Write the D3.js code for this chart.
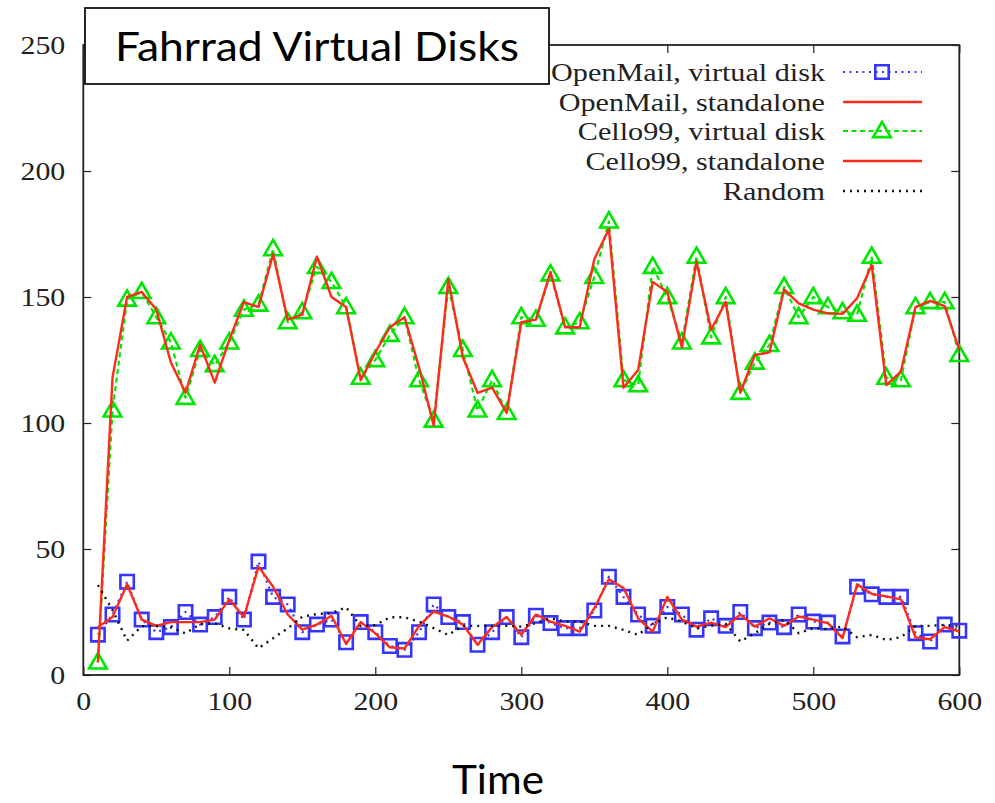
<!DOCTYPE html>
<html>
<head>
<meta charset="utf-8">
<script src="https://cdn.jsdelivr.net/npm/d3@7"></script>
<style>
  html, body { margin: 0; padding: 0; background: #fff; }
  svg { display: block; }
</style>
</head>
<body>
<svg id="chart" width="995" height="803"></svg>
<script>
// Sample times (one sample every 10 time units)
const times = d3.range(10, 601, 10);

// Throughput series, one value per sample time
const openMailVirtual = [16, 24, 37, 22, 17, 19, 25, 20, 23, 31, 22, 45, 31, 28, 17, 20, 22, 13, 21, 17,
  11.5, 10, 17, 28, 23, 21, 12, 17, 23, 15, 23.5, 20.6, 18.6, 18.6, 25.6, 39, 31, 24, 19.5, 27,
  24, 18, 22.5, 19.5, 25, 18.6, 20.8, 19, 24, 21.2, 20.8, 15.3, 35, 32, 31, 31, 16.6, 13.3, 20, 17.6];
const openMailStandalone = [19, 23, 36, 22, 19.5, 21, 21, 21, 22, 30, 23, 43, 35, 24, 18, 20, 23.5, 12.3, 21, 16.5,
  11, 10.5, 19.5, 25.2, 23.2, 20, 12, 19, 23, 16, 24, 21.2, 19.5, 17.2, 26.5, 38, 34.5, 22.5, 17.2, 31,
  22, 19.2, 20.8, 19, 24, 19.2, 22.5, 19.5, 23.2, 22, 20.6, 14.6, 36, 32.2, 31.2, 30, 15, 14.2, 19, 17.2];
const celloVirtual = [5, 105, 149, 152, 142, 132, 110, 129, 123, 132, 145, 147, 169, 140, 144, 162, 156, 146, 118, 125,
  135, 142, 117, 101, 154, 129, 105, 117, 104, 142, 141, 159, 138, 140, 158, 180, 117, 115, 162, 150,
  132, 166, 134, 150, 112, 124, 131, 154, 142, 150, 146, 144, 143, 166, 118, 117, 146, 148, 148, 127];
const celloStandalone = [5, 118, 150, 152, 145, 124, 112, 131, 116, 133, 148, 146, 167, 141, 143, 166, 150, 146, 117, 128,
  138, 142, 122, 99, 157, 126, 112, 114, 104, 140, 141, 160, 138, 138, 165, 177, 114, 121, 156, 152,
  130, 164, 137, 148, 112, 127, 128, 153, 147.5, 145, 143.5, 143.3, 149.5, 162.7, 115, 120.4, 146, 148.5, 146.4, 129];
const randomLoad = [35.7, 25.8, 13.6, 19.4, 19.4, 18.9, 16.5, 20.2, 20.5, 18.5, 17.9, 10.6, 14.6, 18.5, 23.1, 24.2, 24.5, 26.9, 19.4, 19.8,
  22.9, 22.9, 21.2, 18.6, 15.9, 19.5, 19.5, 19.5, 19.5, 19.2, 20.6, 22.5, 21.2, 21.2, 19.5, 19.5, 17.9, 15.9, 20.3, 22.9,
  21.2, 18.6, 19.5, 20.3, 13.3, 16.6, 20.3, 21.9, 16.6, 18.6, 18.2, 19.2, 15, 15.9, 13.9, 15, 19.5, 19.5, 19.9, 19.2];

// Axis tick values
const xTicks = [0, 100, 200, 300, 400, 500, 600];
const yTicks = [0, 50, 100, 150, 200, 250];

const titleText = "Fahrrad Virtual Disks";
const xLabel = "Time";

const seriesNames = ["OpenMail, virtual disk", "OpenMail, standalone", "Cello99, virtual disk", "Cello99, standalone", "Random"];

const svg = d3.select("#chart");
const plotLeft = 83.3, plotRight = 959.3, plotTop = 45, plotBottom = 675;

const x = d3.scaleLinear().domain([0, 600]).range([plotLeft, plotRight]);
const y = d3.scaleLinear().domain([0, 250]).range([plotBottom, plotTop]);

const serif = "'Liberation Serif', 'Times New Roman', serif";
const sans = "Lato, 'Open Sans', sans-serif";

// The serif labels are set slightly wide
function widen(sel, factor) {
  sel.each(function () {
    const w = this.getComputedTextLength();
    d3.select(this).attr("textLength", w * factor).attr("lengthAdjust", "spacingAndGlyphs");
  });
}

// Series styles
const styles = [
  { values: openMailVirtual, color: "#3535ff", dash: "2,4.5", width: 2.2, marker: "square" },
  { values: openMailStandalone, color: "#ff2a1a", dash: null, width: 2.4, marker: null },
  { values: celloVirtual, color: "#00e600", dash: "5,3.5", width: 2.2, marker: "triangle" },
  { values: celloStandalone, color: "#ff2a1a", dash: null, width: 2.4, marker: null },
  { values: randomLoad, color: "#111", dash: "2,5", width: 2.4, marker: null }
];

// Axes with inward ticks, mirrored on top and right
const tickLen = 8;
function styleAxis(g) {
  g.select(".domain").remove();
  g.selectAll(".tick line").attr("stroke", "#222").attr("stroke-width", 1.2);
  g.selectAll(".tick text").attr("font-family", serif).attr("font-size", 26).attr("fill", "#222")
    .call(widen, 1.15);
}
svg.append("g").attr("transform", `translate(0,${plotBottom})`)
  .call(d3.axisBottom(x).tickValues(xTicks).tickSizeInner(-tickLen).tickSizeOuter(0).tickPadding(17))
  .call(styleAxis);
svg.append("g").attr("transform", `translate(0,${plotTop})`)
  .call(d3.axisTop(x).tickValues(xTicks).tickSizeInner(-tickLen).tickSizeOuter(0).tickFormat(""))
  .call(styleAxis);
svg.append("g").attr("transform", `translate(${plotLeft},0)`)
  .call(d3.axisLeft(y).tickValues(yTicks).tickSizeInner(-tickLen).tickSizeOuter(0).tickPadding(18))
  .call(styleAxis);
svg.append("g").attr("transform", `translate(${plotRight},0)`)
  .call(d3.axisRight(y).tickValues(yTicks).tickSizeInner(-tickLen).tickSizeOuter(0).tickFormat(""))
  .call(styleAxis);

// Plot frame
svg.append("rect").attr("x", plotLeft).attr("y", plotTop)
  .attr("width", plotRight - plotLeft).attr("height", plotBottom - plotTop)
  .attr("fill", "none").attr("stroke", "#222").attr("stroke-width", 1.8);

// Marker shapes
const squareSym = d3.symbol().type(d3.symbolSquare).size(180);
const triSym = d3.symbol().type(d3.symbolTriangle).size(135);
function drawMarker(g, kind, cx, cy, color) {
  if (kind === "square") {
    g.append("path").attr("d", squareSym()).attr("transform", `translate(${cx},${cy})`)
      .attr("fill", "none").attr("stroke", color).attr("stroke-width", 2.6);
  } else if (kind === "triangle") {
    g.append("path").attr("d", triSym()).attr("transform", `translate(${cx},${cy + 1})`)
      .attr("fill", "none").attr("stroke", color).attr("stroke-width", 2.6);
  }
}

// Data lines and markers
const line = d3.line().x((d, i) => x(times[i])).y(d => y(d));
const plot = svg.append("g");
styles.forEach(s => {
  const g = plot.append("g");
  g.append("path").datum(s.values).attr("d", line)
    .attr("fill", "none").attr("stroke", s.color).attr("stroke-width", s.width)
    .attr("stroke-dasharray", s.dash)
    .attr("stroke-linejoin", "round");
  if (s.marker) s.values.forEach((v, i) => drawMarker(g, s.marker, x(times[i]), y(v), s.color));
});

// Legend
const legendY = [72, 102, 131, 161, 191];
const legend = svg.append("g");
seriesNames.forEach((name, i) => {
  const s = styles[i];
  legend.append("text").attr("x", 825).attr("y", legendY[i]).attr("dy", "0.35em")
    .attr("text-anchor", "end").attr("font-family", serif).attr("font-size", 26).attr("fill", "#222")
    .text(name).call(widen, 1.16);
  legend.append("line").attr("x1", 843).attr("x2", 922).attr("y1", legendY[i]).attr("y2", legendY[i])
    .attr("stroke", s.color).attr("stroke-width", s.width).attr("stroke-dasharray", s.dash);
  if (s.marker) drawMarker(legend, s.marker, 882, legendY[i], s.color);
});

// Title box
svg.append("rect").attr("x", 85).attr("y", 8).attr("width", 464).attr("height", 76)
  .attr("fill", "#fff").attr("stroke", "#111").attr("stroke-width", 1.8);
svg.append("text").attr("x", 317).attr("y", 47).attr("dy", "0.35em").attr("text-anchor", "middle")
  .attr("font-family", sans).attr("font-size", 40).attr("fill", "#000")
  .attr("textLength", 404).attr("lengthAdjust", "spacingAndGlyphs")
  .text(titleText);

// X axis title
svg.append("text").attr("x", 498).attr("y", 794).attr("text-anchor", "middle")
  .attr("font-family", sans).attr("font-size", 40).attr("fill", "#000")
  .attr("textLength", 92).attr("lengthAdjust", "spacingAndGlyphs")
  .text(xLabel);
</script>
</body>
</html>
